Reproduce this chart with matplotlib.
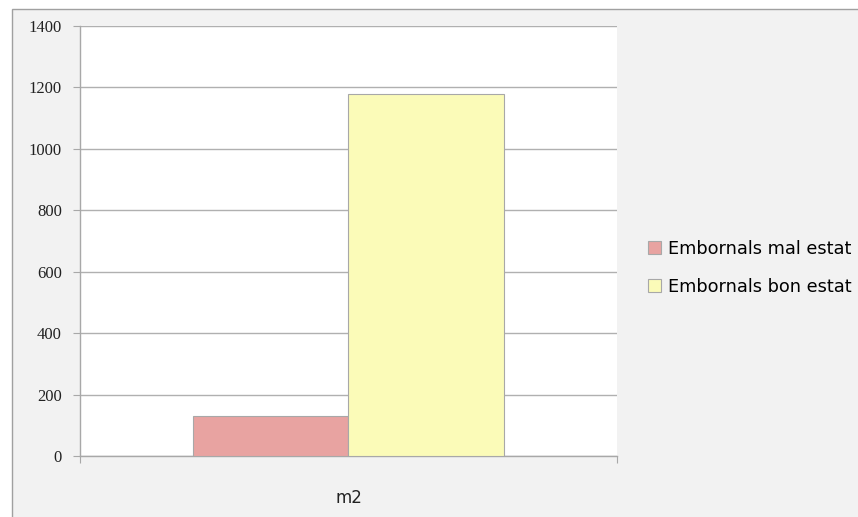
import matplotlib
matplotlib.use("Agg")
import matplotlib.pyplot as plt
from matplotlib.patches import Rectangle
import numpy as np

categories = ["m2"]
series_names = ["Embornals mal estat", "Embornals bon estat"]
mal_estat = [130]
bon_estat = [1180]
yticks = [0, 200, 400, 600, 800, 1000, 1200, 1400]

colors = ["#e8a3a1", "#fbfbb8"]

fig = plt.figure(figsize=(8.58, 5.17), dpi=100)
fig.patch.set_facecolor("white")
# outer frame
frame = Rectangle((12/858, -0.05), 1.0, 1 - 9/517 + 0.05, transform=fig.transFigure,
                  facecolor="#f2f2f2", edgecolor="#a0a0a0", linewidth=1.0, zorder=-10)
fig.patches.append(frame)

ax = fig.add_axes([80/858, 1 - 456/517, (617-80)/858, (456-26)/517])
ax.set_facecolor("white")

x = np.arange(len(categories))
w = 0.289
ax.bar(x - w/2, mal_estat, width=w, color=colors[0], edgecolor="#a8a8a8", linewidth=0.8,
       label=series_names[0], zorder=3)
ax.bar(x + w/2, bon_estat, width=w, color=colors[1], edgecolor="#a8a8a8", linewidth=0.8,
       label=series_names[1], zorder=3)

ax.set_xlim(-0.5, 0.5)
ax.set_ylim(0, 1400)
ax.set_yticks(yticks)
ax.set_yticklabels([str(v) for v in yticks], fontsize=12, family="Liberation Serif", color="#222222")
ax.yaxis.grid(True, color="#b0b0b0", linewidth=1.0, zorder=0)
ax.set_axisbelow(True)

ax.set_xticks([-0.5, 0.5], minor=False)
ax.set_xticklabels(["", ""])
ax.set_xticks([0], minor=True)
ax.set_xticklabels(categories, minor=True, fontsize=12, family="DejaVu Sans", color="#222222")
ax.tick_params(axis="x", which="minor", length=0, pad=24)
ax.tick_params(axis="x", which="major", length=5, color="#a8a8a8", direction="out")
ax.tick_params(axis="y", length=5, color="#a8a8a8", direction="out", pad=8)

for side in ["top", "right"]:
    ax.spines[side].set_visible(False)
for side in ["left", "bottom"]:
    ax.spines[side].set_color("#a8a8a8")
    ax.spines[side].set_linewidth(1.0)

leg = fig.legend(loc="upper left", bbox_to_anchor=(641/858, 1 - 233/517), frameon=False,
                 handlelength=0.75, handleheight=0.75, handletextpad=0.35,
                 labelspacing=1.1, borderaxespad=0, prop={"family": "DejaVu Sans", "size": 12.8})

fig.savefig("out.png", dpi=100, facecolor=fig.get_facecolor())
